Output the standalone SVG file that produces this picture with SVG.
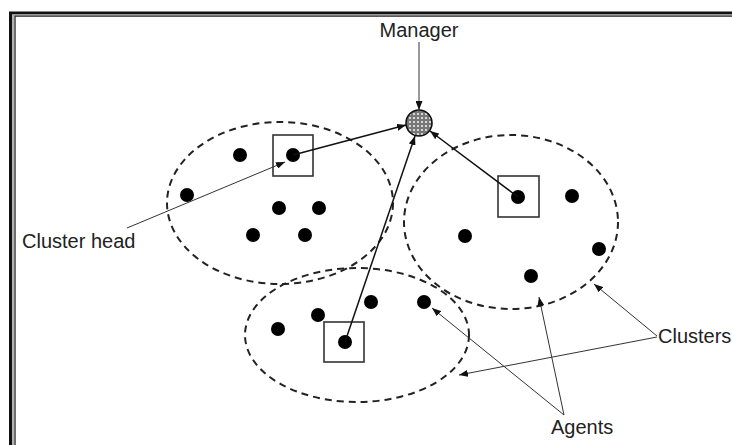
<svg xmlns="http://www.w3.org/2000/svg" width="732" height="445" viewBox="0 0 732 445">
<defs>
<style>
.cl{fill:none;stroke:#222;stroke-width:2;stroke-dasharray:7 5}
.ag{fill:#000}
.bx{fill:none;stroke:#333;stroke-width:1.6}
.ln{fill:none;stroke:#111;stroke-width:1.5}
.lb{fill:none;stroke:#333;stroke-width:1}
.tx{font-family:"Liberation Sans",Arial,Helvetica,sans-serif;font-size:20px;fill:#222}
</style>
<marker id="ah" markerUnits="userSpaceOnUse" markerWidth="9" markerHeight="7" refX="9" refY="3.5" orient="auto">
<path d="M0,0 L9,3.5 L0,7 z" fill="#111"/>
</marker>
<pattern id="hatch" patternUnits="userSpaceOnUse" width="4" height="4">
<rect width="4" height="4" fill="#777"/>
<circle cx="2" cy="2" r="1.1" fill="#eee"/>
</pattern>
</defs>
<rect width="732" height="445" fill="#fff"/>
<g id="frame">
<path d="M10.5 445 V13 H732" fill="none" stroke="#111" stroke-width="3"/>
<path d="M13 445 V14.7 H732" fill="none" stroke="#999" stroke-width="1.5"/>
<path d="M15 445 V16.2 H732" fill="none" stroke="#222" stroke-width="1.3"/>
</g>
<g id="cluster1">
<ellipse class="cl" cx="280" cy="203" rx="113" ry="81"/>
<circle class="ag" cx="240" cy="155" r="7"/>
<circle class="ag" cx="187" cy="195" r="7"/>
<circle class="ag" cx="279" cy="208" r="7"/>
<circle class="ag" cx="319" cy="208" r="7"/>
<circle class="ag" cx="253" cy="235" r="7"/>
<circle class="ag" cx="305" cy="235" r="7"/>
</g>
<g id="head1">
<rect class="bx" x="273" y="135" width="40" height="41"/>
<circle class="ag" cx="293" cy="155" r="7"/>
</g>
<g id="cluster2">
<ellipse class="cl" cx="511" cy="222" rx="107" ry="87"/>
<circle class="ag" cx="572" cy="196" r="7"/>
<circle class="ag" cx="465" cy="236" r="7"/>
<circle class="ag" cx="599" cy="249" r="7"/>
<circle class="ag" cx="531" cy="276" r="7"/>
</g>
<g id="head2">
<rect class="bx" x="498" y="176" width="41" height="41"/>
<circle class="ag" cx="518" cy="197" r="7"/>
</g>
<g id="cluster3">
<ellipse class="cl" cx="357" cy="335" rx="112" ry="67"/>
<circle class="ag" cx="278" cy="329" r="7"/>
<circle class="ag" cx="318" cy="315" r="7"/>
<circle class="ag" cx="371" cy="302" r="7"/>
<circle class="ag" cx="424" cy="302" r="7"/>
</g>
<g id="head3">
<rect class="bx" x="324" y="322" width="40" height="40"/>
<circle class="ag" cx="345" cy="342" r="7"/>
</g>
<g id="manager">
<circle cx="419" cy="123" r="13" fill="url(#hatch)" stroke="#111" stroke-width="1.6"/>
</g>
<g id="connectors">
<line class="ln" x1="293" y1="155" x2="406" y2="125" marker-end="url(#ah)"/>
<line class="ln" x1="345" y1="342" x2="415" y2="136" marker-end="url(#ah)"/>
<line class="ln" x1="518" y1="197" x2="430" y2="131" marker-end="url(#ah)"/>
<line class="lb" x1="419" y1="42" x2="419" y2="110" marker-end="url(#ah)"/>
<line class="lb" x1="127" y1="228" x2="285" y2="162" marker-end="url(#ah)"/>
<line class="lb" x1="657" y1="336" x2="594" y2="284" marker-end="url(#ah)"/>
<line class="lb" x1="657" y1="337" x2="459" y2="375" marker-end="url(#ah)"/>
<line class="lb" x1="564" y1="415" x2="432" y2="308" marker-end="url(#ah)"/>
<line class="lb" x1="564" y1="415" x2="539" y2="297" marker-end="url(#ah)"/>
</g>
<g id="labels">
<text class="tx" x="419" y="37" text-anchor="middle">Manager</text>
<text class="tx" x="22" y="248">Cluster head</text>
<text class="tx" x="658" y="343">Clusters</text>
<text class="tx" x="551" y="434">Agents</text>
</g>
</svg>
